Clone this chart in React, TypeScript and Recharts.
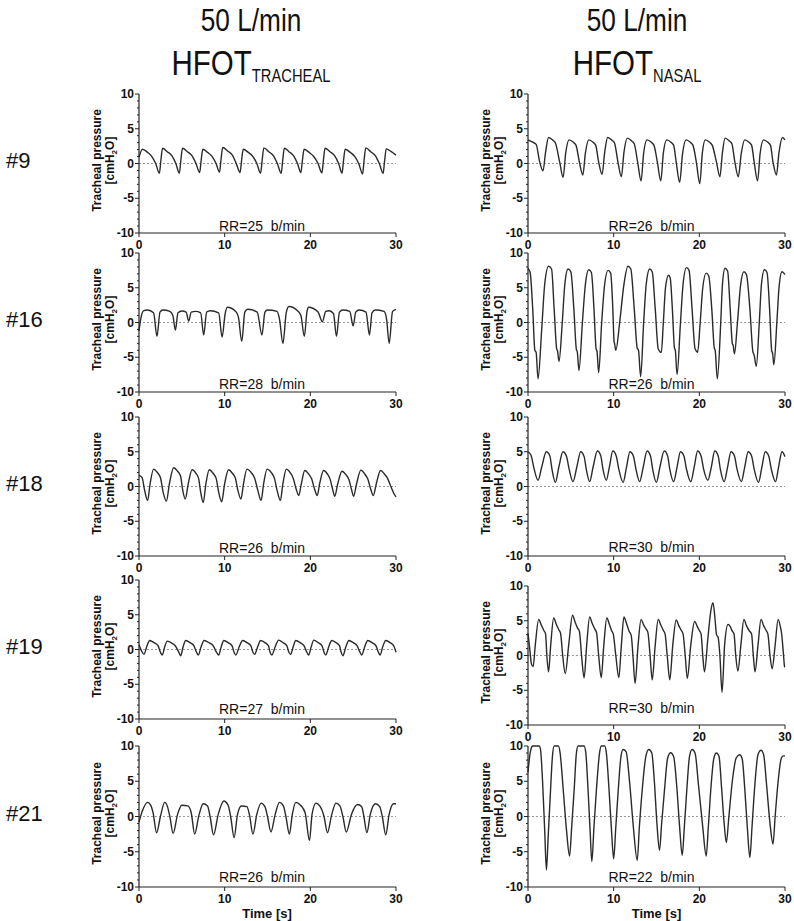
import { LineChart, Line, XAxis, YAxis, ReferenceLine } from "recharts";

type Pt = [number, number];

const flowLabel = "50 L/min";
const modes = ["TRACHEAL", "NASAL"];
const patients = ["#9", "#16", "#18", "#19", "#21"];
const rrTracheal = [25, 28, 26, 27, 26];
const rrNasal = [26, 26, 30, 30, 22];
const timeTicks = [0, 10, 20, 30];
const pressureTicks = [-10, -9, -8, -7, -6, -5, -4, -3, -2, -1, 0, 1, 2, 3, 4, 5, 6, 7, 8, 9, 10];

// tracheal pressure traces, [time s, cmH2O]
const tracheal9: Pt[] = [
  [0, 0.9], [0.4, 2.05], [1.0, 1.6], [1.5, 1.0], [1.95, 0], [2.38, -1.4],
  [2.55, 0.4], [2.75, 2.2], [3.3, 1.7], [3.85, 1.1], [4.3, 0], [4.71, -1.4],
  [4.88, 0.4], [5.08, 2.2], [5.65, 1.7], [6.2, 1.1], [6.65, 0], [7.08, -1.3],
  [7.25, 0.4], [7.45, 2.05], [8.0, 1.6], [8.55, 1.0], [9.0, 0], [9.4, -1.25],
  [9.57, 0.5], [9.77, 2.3], [10.35, 1.8], [10.9, 1.2], [11.35, 0], [11.8, -1.3],
  [11.97, 0.4], [12.17, 2.05], [12.75, 1.6], [13.3, 1.0], [13.75, 0], [14.2, -1.4],
  [14.37, 0.4], [14.57, 2.25], [15.15, 1.7], [15.7, 1.1], [16.15, 0], [16.6, -1.4],
  [16.77, 0.4], [16.97, 2.2], [17.5, 1.7], [18.05, 1.1], [18.5, 0], [18.9, -1.3],
  [19.07, 0.4], [19.27, 2.05], [19.85, 1.6], [20.4, 1.0], [20.9, 0], [21.35, -1.35],
  [21.52, 0.4], [21.72, 2.2], [22.3, 1.7], [22.85, 1.1], [23.3, 0], [23.7, -1.4],
  [23.87, 0.4], [24.07, 2.05], [24.65, 1.6], [25.2, 1.0], [25.65, 0], [26.1, -1.5],
  [26.27, 0.4], [26.47, 2.25], [27.05, 1.7], [27.6, 1.1], [28.05, 0], [28.5, -1.4],
  [28.67, 0.4], [28.87, 2.1], [29.45, 1.7], [30, 1.2],
];

const tracheal16: Pt[] = [
  [0, -1.2], [0.25, 0.8], [0.55, 1.7], [1.0, 1.8], [1.7, 1.4], [2.1, -2.0],
  [2.45, 1.5], [2.8, 1.8], [3.6, 1.6], [3.95, 1.0], [4.25, -1.1],
  [4.55, 1.4], [5.0, 1.65], [5.5, 1.5], [5.8, 0.2],
  [6.1, 1.5], [6.6, 1.6], [7.2, 1.4], [7.55, -1.8],
  [7.9, 1.5], [8.3, 1.7], [9.3, 1.4], [9.7, -2.1],
  [10.05, 1.2], [10.3, 2.2], [11.3, 1.6], [11.6, 0.8], [12.0, -2.7],
  [12.35, 1.5], [12.7, 1.9], [13.8, 1.5], [14.35, -1.8],
  [14.7, 1.5], [15.0, 1.8], [16.1, 1.6], [16.4, 0.5], [16.8, -3.0],
  [17.2, 1.5], [17.5, 2.3], [18.5, 1.7], [18.9, 1.0], [19.3, -2.0],
  [19.6, 1.5], [19.8, 2.2], [20.9, 1.5], [21.4, 0.1],
  [21.8, 1.6], [22.2, 1.7], [22.7, 1.3], [23.05, -2.0],
  [23.4, 1.5], [23.8, 1.8], [24.6, 1.6], [25.0, -0.5],
  [25.3, 1.5], [25.7, 1.8], [26.5, 1.5], [26.9, -1.8],
  [27.2, 1.4], [27.6, 1.8], [28.6, 1.6], [28.9, 0.5], [29.2, -3.0],
  [29.6, 1.6], [30, 1.9],
];

const tracheal18: Pt[] = [
  [0, 1.6], [0.35, 1.3], [0.65, -0.5], [1.0, -2.0],
  [1.3, 0.4], [1.7, 2.5], [2.15, 2.0], [2.5, 1.3], [2.85, -1.0], [3.2, -2.1],
  [3.55, 0.4], [4.05, 2.7], [4.5, 2.2], [4.85, 1.5], [5.1, -0.5], [5.4, -1.8],
  [5.75, 0.4], [6.2, 2.4], [6.65, 1.9], [6.95, 1.2], [7.2, -0.8], [7.5, -2.3],
  [7.8, 0.3], [8.2, 2.4], [8.65, 1.9], [9.0, 1.2], [9.3, -0.8], [9.65, -2.2],
  [10.0, 0.4], [10.45, 2.4], [10.9, 1.9], [11.25, 1.2], [11.55, -0.6], [11.9, -1.8],
  [12.2, 0.4], [12.6, 2.5], [13.1, 2.0], [13.5, 1.2], [13.9, -0.7], [14.25, -2.0],
  [14.55, 0.4], [14.95, 2.5], [15.45, 2.0], [15.8, 1.2], [16.15, -0.7], [16.5, -2.0],
  [16.8, 0.4], [17.2, 2.5], [17.65, 2.0], [18.0, 1.2], [18.35, -0.4], [18.65, -1.3],
  [18.95, 0.4], [19.35, 2.3], [19.8, 1.8], [20.15, 1.1], [20.5, -0.4], [20.8, -1.3],
  [21.1, 0.5], [21.55, 2.3], [22.0, 1.8], [22.3, 1.1], [22.6, -0.4], [22.85, -1.4],
  [23.2, 0.4], [23.7, 2.2], [24.15, 1.7], [24.5, 1.0], [24.8, -0.4], [25.05, -1.4],
  [25.4, 0.4], [25.9, 2.35], [26.35, 1.8], [26.7, 1.1], [27.05, -0.4], [27.35, -1.3],
  [27.7, 0.4], [28.2, 2.3], [28.65, 1.8], [29.0, 1.2], [29.4, 0.0], [29.75, -1.0], [30, -1.5],
];

const tracheal19: Pt[] = [
  [0, 0.7], [0.3, -0.2], [0.58, -0.7], [0.9, 0.4], [1.25, 1.3], [1.8, 0.95], [2.2, 0.6], [2.5, -0.4], [2.72, -0.8],
  [3.0, 0.4], [3.3, 1.2], [3.85, 0.9], [4.25, 0.5], [4.65, -0.4], [4.86, -0.9],
  [5.15, 0.4], [5.45, 1.3], [6.0, 0.95], [6.4, 0.55], [6.72, -0.4], [6.93, -0.8],
  [7.25, 0.4], [7.6, 1.3], [8.2, 0.95], [8.65, 0.55], [9.05, -0.4], [9.3, -0.8],
  [9.6, 0.4], [9.9, 1.3], [10.45, 0.95], [10.85, 0.55], [11.1, -0.4], [11.3, -0.8],
  [11.7, 0.4], [12.1, 1.3], [12.65, 0.95], [13.05, 0.55], [13.3, -0.4], [13.5, -0.7],
  [13.85, 0.4], [14.2, 1.3], [14.75, 0.95], [15.1, 0.55], [15.3, -0.4], [15.5, -0.8],
  [15.9, 0.4], [16.3, 1.35], [16.85, 0.95], [17.25, 0.55], [17.5, -0.4], [17.7, -0.7],
  [18.0, 0.4], [18.3, 1.3], [18.85, 0.95], [19.25, 0.55], [19.6, -0.4], [19.8, -0.8],
  [20.1, 0.4], [20.4, 1.35], [20.95, 0.95], [21.35, 0.55], [21.6, -0.4], [21.8, -0.8],
  [22.15, 0.4], [22.5, 1.3], [23.05, 0.95], [23.4, 0.55], [23.6, -0.4], [23.8, -0.9],
  [24.15, 0.4], [24.5, 1.3], [25.05, 0.95], [25.45, 0.55], [25.8, -0.4], [26.0, -0.8],
  [26.35, 0.4], [26.7, 1.3], [27.25, 0.95], [27.65, 0.55], [27.95, -0.4], [28.15, -0.8],
  [28.45, 0.4], [28.8, 1.3], [29.35, 0.95], [29.75, 0.5], [30, -0.4],
];

const tracheal21: Pt[] = [
  [0, -0.8], [0.4, 0.8], [1.0, 2.0], [1.4, 1.5], [1.65, 0.5], [2.05, -2.3],
  [2.5, 0], [3.0, 2.0], [3.35, 1.3], [3.6, 0], [3.99, -2.4],
  [4.5, 0.3], [5.0, 1.6], [5.7, 1.5], [6.1, 0.5], [6.5, -2.5],
  [7.0, 0.2], [7.5, 1.8], [8.0, 1.5], [8.3, 0], [8.7, -2.6],
  [9.25, 0.3], [9.9, 2.2], [10.4, 1.6], [10.7, 0], [11.1, -3.0],
  [11.5, 0.3], [11.95, 1.5], [12.6, 1.4], [12.9, 0.2], [13.3, -2.5],
  [13.75, 0.3], [14.25, 1.9], [14.7, 1.4], [15.0, 0], [15.4, -2.2],
  [15.9, 0.3], [16.4, 2.0], [16.85, 1.5], [17.15, 0], [17.55, -2.5],
  [17.9, 0.3], [18.3, 2.0], [18.85, 1.6], [19.4, 0.5], [19.9, -3.4],
  [20.2, 0.3], [20.65, 1.9], [21.1, 1.5], [21.6, 0], [22.0, -2.3],
  [22.5, 0.3], [23.0, 1.9], [23.45, 1.5], [23.8, 0], [24.2, -2.2],
  [24.8, 0.3], [25.5, 1.7], [26.0, 1.4], [26.25, 0], [26.6, -2.3],
  [27.0, 0.3], [27.6, 1.8], [28.1, 1.4], [28.4, 0], [28.8, -2.6],
  [29.2, 0.3], [29.7, 1.8], [30, 1.8],
];

// nasal pressure traces
const nasal9: Pt[] = [
  [0, 3.4], [0.5, 3.1], [0.95, 2.75], [1.35, 0.3], [1.75, -1.05],
  [2.05, 1.6], [2.4, 3.75], [2.9, 3.35], [3.2, 2.95], [3.7, 0.2], [4.1, -2.0],
  [4.4, 1.5], [4.8, 3.4], [5.3, 3.05], [5.6, 2.65], [6.0, 0.2], [6.4, -1.65],
  [6.7, 1.5], [7.1, 3.4], [7.6, 3.05], [7.9, 2.65], [8.25, 0.2], [8.65, -1.55],
  [8.95, 1.6], [9.3, 3.75], [9.8, 3.35], [10.1, 2.95], [10.5, 0.2], [10.9, -1.9],
  [11.2, 1.6], [11.6, 3.65], [12.1, 3.25], [12.4, 2.85], [12.8, 0.2], [13.2, -2.5],
  [13.5, 1.5], [13.9, 3.4], [14.4, 3.05], [14.7, 2.65], [15.1, 0.2], [15.5, -2.5],
  [15.8, 1.5], [16.2, 3.4], [16.7, 3.05], [17.0, 2.65], [17.3, 0.2], [17.7, -2.7],
  [18.05, 1.5], [18.45, 3.4], [18.95, 3.05], [19.25, 2.65], [19.65, 0.2], [20.05, -2.9],
  [20.35, 1.5], [20.7, 3.4], [21.2, 3.05], [21.5, 2.65], [22.0, 0.2], [22.4, -1.9],
  [22.7, 1.6], [23.0, 3.65], [23.5, 3.25], [23.8, 2.85], [24.15, 0.2], [24.55, -1.9],
  [24.9, 1.5], [25.3, 3.4], [25.8, 3.05], [26.1, 2.65], [26.4, 0.2], [26.8, -2.5],
  [27.1, 1.5], [27.5, 3.4], [28.0, 3.05], [28.3, 2.65], [28.6, 0.2], [29.0, -1.65],
  [29.3, 1.6], [29.7, 3.75], [30, 3.4],
];

const nasal16: Pt[] = [
  [0, 7.8], [0.25, 7.2], [0.55, 2.0], [0.8, -4.0], [0.95, -4.3], [1.17, -8.1], [1.6, -1.0], [1.95, 5.5], [2.4, 8.1],
  [2.75, 7.7], [3.05, 2.0], [3.35, -3.8], [3.45, -4.1], [3.62, -5.6], [4.0, 0], [4.3, 5.5], [4.67, 7.7],
  [5.0, 7.3], [5.35, 2.0], [5.65, -3.9], [5.75, -4.2], [5.95, -6.9], [6.35, 0], [6.7, 5.5], [7.08, 7.6],
  [7.4, 7.2], [7.7, 2.0], [7.95, -3.8], [8.05, -4.1], [8.25, -7.2], [8.6, 0], [8.95, 5.5], [9.34, 7.5],
  [9.65, 7.1], [9.9, 2.0], [10.05, -2.8], [10.1, -3.0], [10.25, -4.0], [10.7, 0], [11.2, 5.5], [11.67, 8.1],
  [12.0, 7.7], [12.4, 2.0], [12.75, -3.7], [12.9, -4.0], [13.15, -7.8], [13.5, 0], [13.8, 5.5], [14.2, 7.7],
  [14.5, 7.3], [14.85, 2.0], [15.2, -3.8], [15.4, -4.2], [15.56, -4.3], [15.8, 0], [16.05, 5.0], [16.4, 6.8],
  [16.6, 6.4], [16.85, 2.0], [17.1, -3.7], [17.2, -4.0], [17.4, -7.5], [17.8, 0], [18.1, 5.5], [18.5, 7.9],
  [18.8, 7.5], [19.15, 2.0], [19.5, -3.8], [19.65, -4.1], [19.8, -4.3], [20.1, 0], [20.4, 5.0], [20.8, 7.1],
  [21.1, 6.7], [21.45, 2.0], [21.75, -3.7], [21.85, -4.0], [22.1, -8.1], [22.5, 0], [22.7, 5.5], [23.0, 7.8],
  [23.3, 7.4], [23.6, 2.0], [23.85, -3.0], [23.95, -3.3], [24.1, -4.5], [24.45, 0], [24.8, 5.2], [25.2, 7.3],
  [25.5, 6.9], [25.9, 2.0], [26.25, -4.2], [26.4, -4.7], [26.65, -6.3], [27.0, 0], [27.25, 5.5], [27.6, 7.6],
  [27.9, 7.2], [28.2, 2.0], [28.45, -4.1], [28.55, -4.4], [28.7, -6.1], [29.05, 0], [29.3, 5.0], [29.65, 7.3], [30, 6.9],
];

const nasal18: Pt[] = [
  [0, 5.0], [0.35, 4.5], [0.7, 2.6], [1.17, 0.9], [1.6, 2.8], [2.14, 5.0],
  [2.55, 4.4], [2.8, 2.5], [3.19, 0.6], [3.6, 2.8], [4.08, 5.0],
  [4.5, 4.3], [4.8, 2.5], [5.25, 0.7], [5.7, 2.8], [6.15, 5.0],
  [6.55, 4.3], [6.8, 2.5], [7.2, 0.7], [7.6, 2.8], [8.1, 5.1],
  [8.5, 4.4], [8.75, 2.5], [9.14, 0.9], [9.5, 2.8], [9.9, 5.1],
  [10.3, 4.4], [10.6, 2.5], [11.1, 0.6], [11.5, 2.8], [11.9, 5.0],
  [12.3, 4.4], [12.6, 2.5], [13.04, 0.7], [13.45, 2.8], [13.9, 5.1],
  [14.3, 4.4], [14.55, 2.5], [14.98, 0.6], [15.4, 2.8], [15.9, 5.1],
  [16.3, 4.4], [16.55, 2.5], [17.0, 0.7], [17.4, 2.8], [17.8, 5.0],
  [18.2, 4.4], [18.5, 2.5], [19.0, 0.7], [19.4, 2.8], [19.8, 5.1],
  [20.2, 4.4], [20.5, 2.5], [21.0, 0.9], [21.4, 2.8], [21.8, 5.1],
  [22.2, 4.4], [22.45, 2.5], [22.9, 0.7], [23.3, 2.8], [23.7, 5.0],
  [24.1, 4.4], [24.4, 2.5], [24.9, 0.7], [25.3, 2.8], [25.7, 5.0],
  [26.1, 4.4], [26.4, 2.5], [26.9, 0.6], [27.3, 2.8], [27.7, 5.0],
  [28.1, 4.4], [28.4, 2.5], [28.9, 0.7], [29.25, 2.8], [29.65, 5.0], [30, 4.3],
];

const nasal19: Pt[] = [
  [0, 3.2], [0.2, 1.0], [0.4, -1.2], [0.6, -1.6], [0.85, 1.5], [1.25, 5.2], [1.55, 4.4], [1.85, 3.6], [2.05, 3.1], [2.2, 0], [2.4, -2.35],
  [2.65, 1.5], [3.0, 5.4], [3.3, 4.5], [3.6, 3.7], [3.8, 3.2], [4.05, 0], [4.35, -2.6],
  [4.75, 1.5], [5.2, 5.8], [5.5, 4.8], [5.8, 3.9], [6.0, 3.5], [6.25, 0], [6.55, -3.2],
  [6.85, 1.5], [7.2, 5.55], [7.5, 4.6], [7.8, 3.8], [8.0, 3.3], [8.25, 0], [8.55, -3.2],
  [8.85, 1.5], [9.2, 5.4], [9.5, 4.5], [9.75, 3.6], [9.95, 3.1], [10.25, 0], [10.6, -3.2],
  [10.9, 1.5], [11.2, 5.55], [11.5, 4.6], [11.8, 3.5], [12.05, 2.9], [12.25, 0], [12.5, -4.0],
  [12.85, 1.5], [13.2, 5.2], [13.5, 4.4], [13.8, 3.8], [14.0, 3.3], [14.25, 0], [14.5, -3.5],
  [14.85, 1.5], [15.2, 5.2], [15.5, 4.4], [15.8, 3.6], [16.0, 3.1], [16.25, 0], [16.55, -3.5],
  [16.9, 1.5], [17.3, 5.1], [17.6, 4.3], [17.9, 3.6], [18.1, 3.1], [18.35, 0], [18.6, -3.3],
  [19.0, 1.5], [19.45, 4.9], [19.75, 4.2], [20.0, 3.6], [20.2, 3.1], [20.4, 0], [20.6, -2.35],
  [21.0, 2.5], [21.35, 6.5], [21.6, 7.6], [21.85, 5.0], [22.0, 3.0], [22.2, 2.6], [22.4, 0], [22.65, -5.3],
  [22.95, 1.5], [23.35, 4.45], [23.6, 4.2], [23.85, 3.5], [24.05, 3.1], [24.25, 0], [24.5, -2.25],
  [24.85, 1.5], [25.2, 5.2], [25.5, 4.3], [25.8, 3.6], [26.1, 3.1], [26.3, 0], [26.5, -2.35],
  [26.85, 1.5], [27.2, 5.2], [27.5, 4.3], [27.8, 3.6], [28.0, 3.1], [28.25, 0], [28.5, -1.9],
  [28.85, 1.5], [29.2, 5.2], [29.45, 4.2], [29.6, 3.2], [29.8, 0.5], [29.95, -1.6], [30, -1.7],
];

const nasal21: Pt[] = [
  [0, 6.3], [0.25, 9.0], [0.45, 9.9], [0.55, 10], [1.3, 10], [1.45, 9.6], [1.7, 5.0], [1.95, -2.0], [2.15, -7.6],
  [2.35, -3.0], [2.6, 3.0], [2.85, 8.5], [3.05, 10], [3.55, 10], [3.75, 9.0], [4.1, 4.0], [4.5, -2.0], [4.85, -5.6],
  [5.1, -1.5], [5.4, 4.0], [5.65, 9.0], [5.85, 10], [6.55, 10], [6.75, 9.0], [7.0, 4.0], [7.25, -2.0], [7.45, -6.4],
  [7.7, -1.5], [8.0, 4.0], [8.35, 9.0], [8.55, 10], [8.95, 10], [9.15, 9.0], [9.45, 4.0], [9.75, -2.0], [10.0, -6.0],
  [10.25, -1.5], [10.55, 4.0], [10.85, 8.5], [11.1, 9.5], [11.45, 9.2], [11.85, 5.0], [12.3, -1.5], [12.75, -6.2],
  [13.0, -1.5], [13.35, 4.0], [13.75, 8.5], [14.1, 9.5], [14.45, 9.0], [14.75, 5.0], [15.05, -1.0], [15.35, -4.8],
  [15.6, -1.0], [15.95, 4.0], [16.3, 8.3], [16.65, 9.05], [17.0, 8.5], [17.35, 4.5], [17.7, -1.5], [18.0, -5.5],
  [18.25, -1.5], [18.55, 4.0], [18.85, 8.5], [19.15, 9.5], [19.5, 9.0], [19.9, 4.5], [20.4, -1.5], [20.8, -5.6],
  [21.05, -1.5], [21.35, 4.0], [21.7, 8.3], [22.0, 9.0], [22.3, 8.5], [22.6, 4.0], [22.9, -1.0], [23.15, -3.7],
  [23.45, 0], [23.85, 5.0], [24.3, 8.3], [24.7, 8.75], [25.0, 8.2], [25.3, 4.0], [25.6, -1.5], [25.9, -5.8],
  [26.15, -1.5], [26.45, 4.0], [26.85, 8.8], [27.2, 9.4], [27.5, 8.8], [27.85, 4.5], [28.25, -1.0], [28.6, -3.9],
  [28.85, 0], [29.2, 5.0], [29.55, 8.2], [29.8, 8.6], [30, 8.6],
];

const trachealTraces = [tracheal9, tracheal16, tracheal18, tracheal19, tracheal21];
const nasalTraces = [nasal9, nasal16, nasal18, nasal19, nasal21];

// layout (px)
const FONT = "'Liberation Sans', Arial, Helvetica, sans-serif";
const PLOT_W = 257;
const AXIS_W = 50;
const colAxisX = [138.5, 528];
const rowTops = [
  [94, 94],
  [253, 253],
  [417, 417],
  [580, 586],
  [746, 746],
];
const rowH = [139, 139, 139, 139, 141];
const rrLift = [
  [2, 2],
  [3.4, 3.4],
  [3.4, 4.4],
  [4.7, 11.7],
  [5, 5],
];
const INK = "#222";

const YTick = (props: any) => {
  const { x, y, payload } = props;
  const v = payload.value as number;
  const major = v % 5 === 0;
  return (
    <g>
      <line x1={x - (major ? 4 : 2)} x2={x} y1={y} y2={y} stroke={INK} strokeWidth={1} />
      {major && (
        <text x={x - 5} y={y + 4} textAnchor="end" fontSize={12} fontWeight="bold" fill="#111">
          {v}
        </text>
      )}
    </g>
  );
};

const XTick = (props: any) => {
  const { x, y, payload } = props;
  return (
    <g>
      <line x1={x} x2={x} y1={y} y2={y + 4} stroke={INK} strokeWidth={1} />
      <text x={x} y={y + 16} textAnchor="middle" fontSize={12} fontWeight="bold" fill="#111">
        {payload.value}
      </text>
    </g>
  );
};

function Panel({ trace, axisX, top, height }: { trace: Pt[]; axisX: number; top: number; height: number }) {
  const rows = trace.map(([t, p]) => ({ t, p }));
  return (
    <div style={{ position: "absolute", left: axisX - AXIS_W, top: top - 10 }}>
      <LineChart
        width={AXIS_W + PLOT_W + 12}
        height={10 + height + 24}
        data={rows}
        margin={{ top: 10, right: 12, bottom: 0, left: 0 }}
      >
        <XAxis
          type="number"
          dataKey="t"
          domain={[0, 30]}
          ticks={timeTicks}
          interval={0}
          height={24}
          tickSize={0}
          tickMargin={0}
          tickLine={false}
          axisLine={{ stroke: INK, strokeWidth: 1.2 }}
          tick={XTick}
        />
        <YAxis
          type="number"
          domain={[-10, 10]}
          ticks={pressureTicks}
          interval={0}
          width={AXIS_W}
          tickSize={0}
          tickMargin={0}
          tickLine={false}
          axisLine={{ stroke: INK, strokeWidth: 1.2 }}
          tick={YTick}
        />
        <ReferenceLine y={0} stroke="#999" strokeDasharray="2 2" strokeWidth={1} />
        <Line
          type="monotone"
          dataKey="p"
          stroke="#2a2a2a"
          strokeWidth={1.4}
          dot={false}
          isAnimationActive={false}
        />
      </LineChart>
    </div>
  );
}

export default function App() {
  const headerX = [251, 637];
  return (
    <div
      style={{
        position: "absolute",
        left: 0,
        top: 0,
        width: 794,
        height: 921,
        background: "#fff",
        fontFamily: FONT,
      }}
    >
      {patients.map((_, r) => (
        <div key={r}>
          <Panel trace={trachealTraces[r]} axisX={colAxisX[0]} top={rowTops[r][0]} height={rowH[r]} />
          <Panel trace={nasalTraces[r]} axisX={colAxisX[1]} top={rowTops[r][1]} height={rowH[r]} />
        </div>
      ))}
      <svg
        width={794}
        height={921}
        style={{ position: "absolute", left: 0, top: 0, pointerEvents: "none" }}
        fontFamily={FONT}
      >
        {modes.map((m, c) => (
          <g key={m} fill="#111">
            <text transform={`translate(${headerX[c]},31) scale(0.82,1)`} textAnchor="middle" fontSize={32}>
              {flowLabel}
            </text>
            <text transform={`translate(${headerX[c]},75) scale(0.82,1)`} textAnchor="middle" fontSize={36}>
              HFOT
              <tspan fontSize={18} dy={7}>
                {m}
              </tspan>
            </text>
          </g>
        ))}
        {patients.map((p, r) => {
          const mid = rowTops[r][0] + rowH[r] / 2;
          return (
            <text key={p} x={6} y={mid + 4} fontSize={22} fill="#111">
              {p}
            </text>
          );
        })}
        {patients.map((p, r) =>
          [0, 1].map((c) => {
            const top = rowTops[r][c];
            const h = rowH[r];
            const ax = colAxisX[c];
            const mid = top + h / 2 - 3;
            const rr = c === 0 ? rrTracheal[r] : rrNasal[r];
            return (
              <g key={`${p}-${c}`} fill="#111">
                <text
                  transform={`translate(${ax - 38},${mid}) rotate(-90)`}
                  textAnchor="middle"
                  fontSize={12}
                  fontWeight="bold"
                >
                  Tracheal pressure
                </text>
                <text
                  transform={`translate(${ax - 25},${mid}) rotate(-90)`}
                  textAnchor="middle"
                  fontSize={12}
                  fontWeight="bold"
                >
                  [cmH
                  <tspan fontSize={8} dy={3}>
                    2
                  </tspan>
                  <tspan dy={-3}>O]</tspan>
                </text>
                <text
                  x={ax + PLOT_W / 2 - 5}
                  y={top + h - rrLift[r][c]}
                  textAnchor="middle"
                  fontSize={14}
                  style={{ whiteSpace: "pre" }}
                >
                  {`RR=${rr}  b/min`}
                </text>
                {r === patients.length - 1 && (
                  <text x={ax + PLOT_W / 2} y={918} textAnchor="middle" fontSize={13} fontWeight="bold">
                    Time [s]
                  </text>
                )}
              </g>
            );
          })
        )}
      </svg>
    </div>
  );
}
